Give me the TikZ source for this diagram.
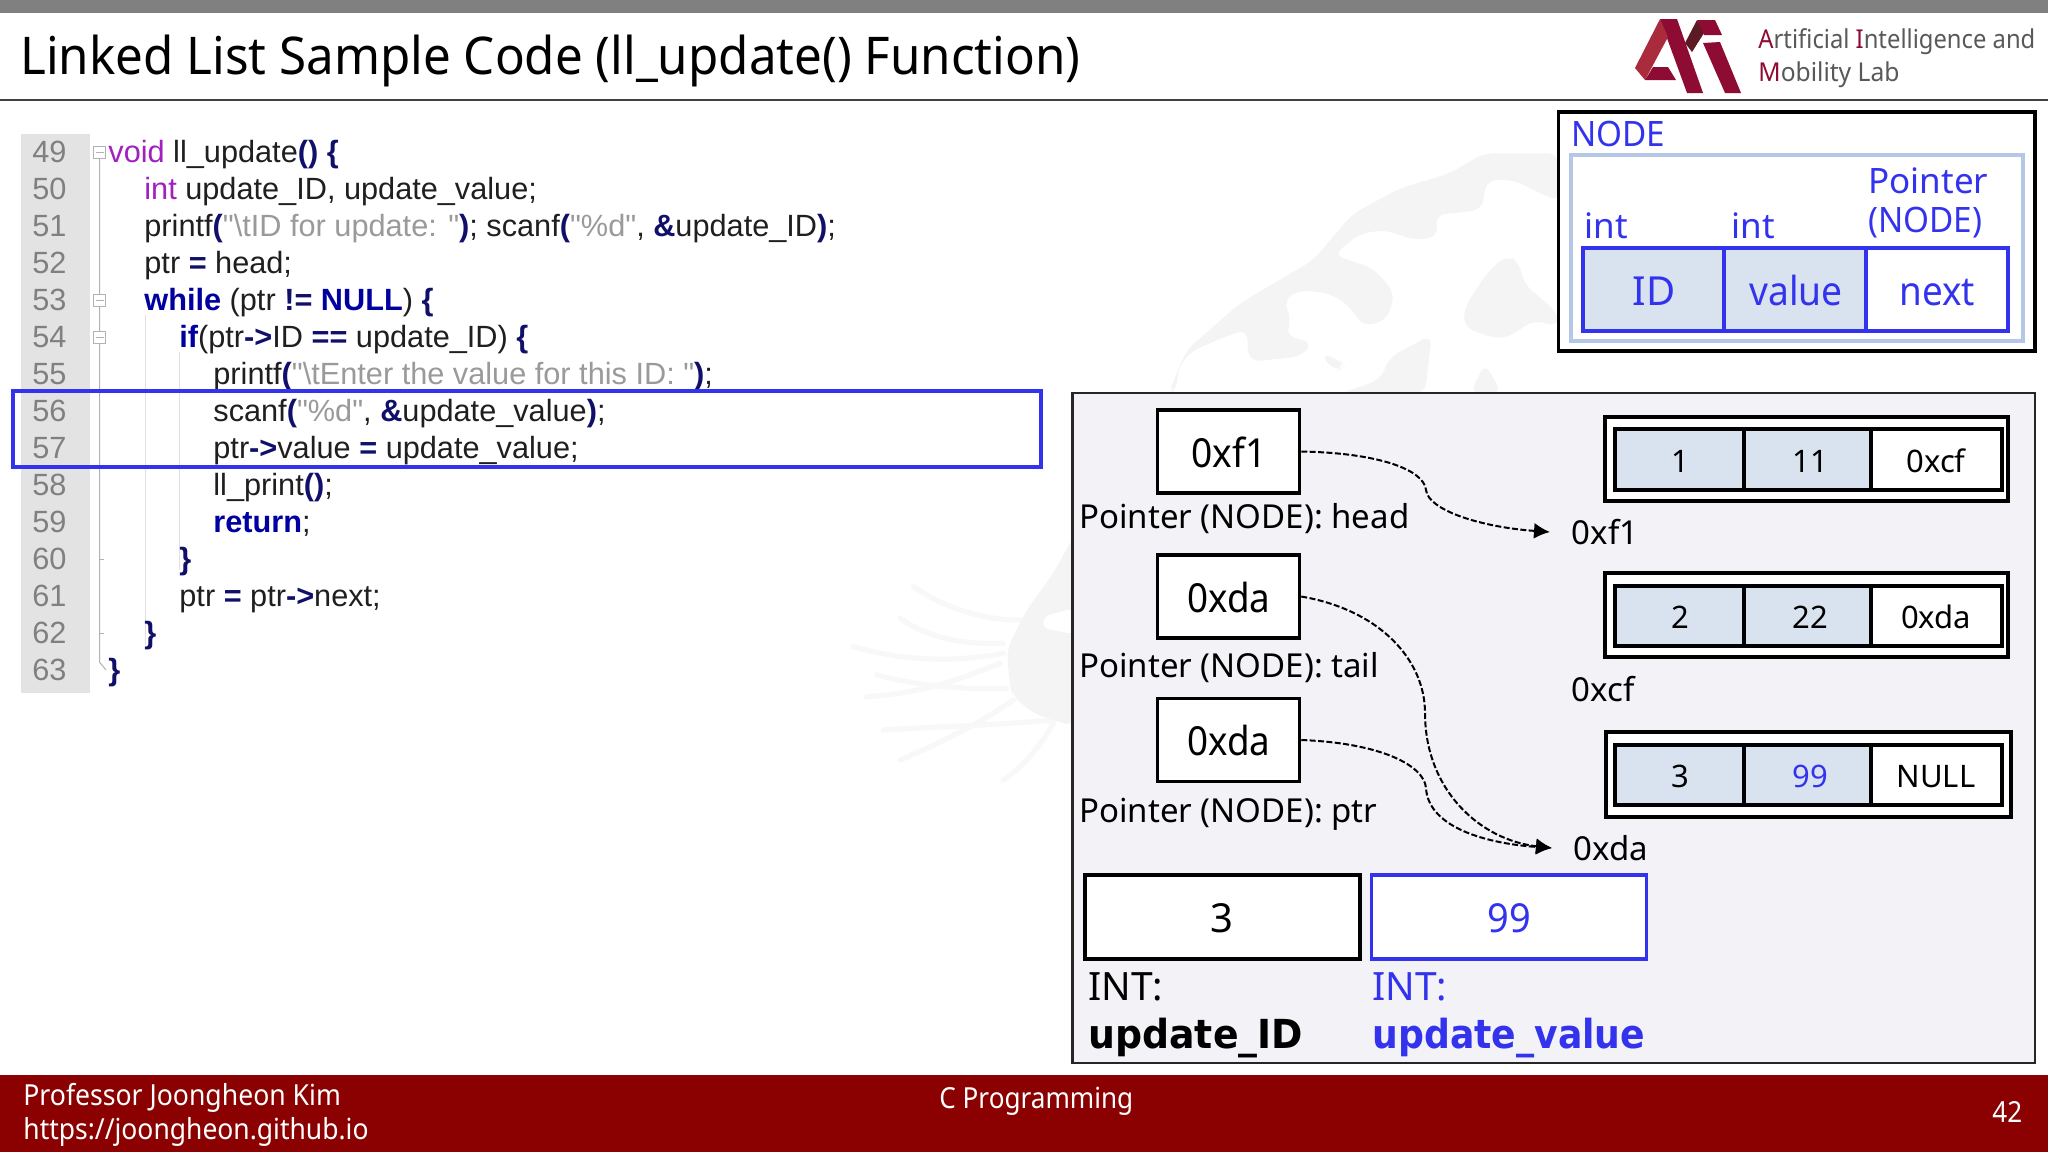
\documentclass[tikz,border=0pt]{standalone}
\usepackage{fontspec}
\setmainfont{Noto Sans}
\newfontfamily\codefont{Liberation Sans}
\newfontfamily\boldfont{DejaVu Sans}
\usetikzlibrary{arrows.meta}
\definecolor{blu}{HTML}{3333EE}
\definecolor{lb}{HTML}{D9E3F0}
\definecolor{lbb}{HTML}{B4C7E7}
\definecolor{pan}{HTML}{F2F2F7}
\definecolor{crim}{HTML}{8B0000}
\definecolor{kw}{HTML}{0000A0}
\definecolor{pur}{HTML}{A020C0}
\definecolor{dk}{HTML}{10106A}
\definecolor{str}{HTML}{9A9A9A}
\definecolor{lgA}{HTML}{A92B3C}
\definecolor{lgB}{HTML}{8E0B33}
\definecolor{lgC}{HTML}{5C1A24}
\definecolor{lgT}{HTML}{595959}
\definecolor{wmk}{HTML}{F4F4F5}
\definecolor{wml}{HTML}{F8F8F8}
\tikzset{
  x=0.5pt,y=-0.5pt,
  txt/.style={anchor=base west,inner sep=0pt,font=\fontsize{#1}{#1}\selectfont},
  ctext/.style={anchor=base,inner sep=0pt,font=\fontsize{#1}{#1}\selectfont},
  code/.style={anchor=base west,inner sep=0pt,font=\codefont\fontsize{15.35}{17}\selectfont,text=black!88},
  lnum/.style={anchor=base west,inner sep=0pt,font=\codefont\fontsize{15.35}{17}\selectfont,text=black!50},
  boxk/.style={draw=black,line width=1.75pt,fill=white},
  fld/.style={draw=black,line width=1.6pt},
  ptr/.style={draw=black,line width=1pt,dash pattern=on 3pt off 1.2pt,-{Latex[length=8pt,width=8pt]}},
  guide/.style={draw=black!30,line width=0.5pt},
  addr/.style={anchor=west,inner sep=0pt,inner xsep=10.7pt,font=\fontsize{16.5}{16.5}\selectfont},
  foot/.style={anchor=base west,inner sep=0pt,text=white,font=\fontsize{14.5}{15}\selectfont},
  wm/.style={fill=wmk,draw=none,rounded corners=5pt},
  wmb/.style={draw=wml,line width=2.6pt,line cap=round},
}
\newcommand{\sq}[1]{\addfontfeature{FakeStretch=#1}}
\newcommand{\kwd}[1]{\textbf{\textcolor{kw}{#1}}}
\newcommand{\sym}[1]{\textbf{\textcolor{dk}{#1}}}
\newcommand{\st}[1]{\textcolor{str}{#1}}
\newcommand{\ty}[1]{\textcolor{pur}{#1}}
\begin{document}
\begin{tikzpicture}
\useasboundingbox (0,0) rectangle (2048,1152);
\fill[white] (0,0) rectangle (2048,1152);
% watermark, upper part
\begin{scope}[shift={(1100,130)},x=0.16667pt,y=-0.16667pt]
\fill[wm] (205,790) -- (260,660) -- (420,520) -- (640,390) -- (760,250) -- (900,175) -- (1050,130) -- (1150,70) -- (1375,70) -- (1375,215) -- (1240,150) -- (1160,150) -- (1145,240) -- (1005,255) -- (1015,320) -- (940,330) -- (860,300) -- (780,310) -- (700,375) -- (820,415) -- (885,490) -- (860,570) -- (790,590) -- (750,530) -- (690,490) -- (600,480) -- (550,510) -- (575,570) -- (555,615) -- (640,640) -- (600,680) -- (450,695) -- (440,640) -- (445,600) -- (400,610) -- (280,660) -- (240,700) -- (225,790) -- cycle;
\fill[wm] (1220,375) -- (1260,400) -- (1270,460) -- (1375,550) -- (1375,590) -- (1300,570) -- (1230,620) -- (1180,625) -- (1090,590) -- (1095,530) -- (1160,430) -- cycle;
\fill[wm] (995,615) -- (975,790) -- (720,790) -- (840,750) -- (870,680) -- cycle;
\fill[wm] (1155,700) -- (1205,790) -- (1110,790) -- cycle;
\fill[wm] (660,670) -- (720,690) -- (735,710) -- (705,725) -- cycle;
\end{scope}
% watermark, lower part
\begin{scope}[shift={(800,480)},x=0.16667pt,y=-0.16667pt]
\draw[wmb] (340,320) .. controls (430,380) and (540,420) .. (660,420);
\draw[wmb] (300,415) .. controls (380,470) and (480,495) .. (610,490);
\draw[wmb] (160,500) .. controls (300,540) and (450,550) .. (610,520);
\draw[wmb] (230,585) .. controls (350,615) and (480,630) .. (620,625);
\draw[wmb] (200,650) .. controls (350,640) and (450,610) .. (600,550);
\draw[wmb] (250,750) .. controls (400,740) and (600,735) .. (760,720);
\draw[wmb] (300,840) .. controls (420,790) and (540,730) .. (640,660);
\draw[wmb] (610,900) .. controls (670,860) and (720,800) .. (760,730);
\fill[wm] (820,170) -- (760,280) -- (680,390) -- (620,510) -- (630,620) -- (640,650) -- (700,700) -- (820,740) -- cycle;
\fill[white,rounded corners=3pt] (820,385) -- (730,410) -- (730,445) -- (820,462) -- cycle;
\end{scope}
% header
\fill[black!50] (0,0) rectangle (2048,13);
\draw[black!75,line width=0.7pt] (0,100) -- (2048,100);
\node[txt=26] (title) at (20,74) {\sq{0.948}Linked List Sample Code (ll\_update() Function)};
% logo
\fill[lgB] (1660,19) -- (1677,19) -- (1703,93) -- (1687,93) -- cycle;
\fill[lgA] (1660,19) -- (1635,68) -- (1645,80) -- (1668,37) -- cycle;
\fill[lgB] (1645,80) -- (1676,80) -- (1668,67) -- (1653,67) -- cycle;
\fill[lgC] (1685,43) -- (1697,20) -- (1704,33) -- (1692,52) -- cycle;
\fill[lgB] (1697,20) -- (1715,20) -- (1722,35) -- (1704,35) -- cycle;
\fill[lgB] (1703,43) -- (1720,42) -- (1741,93) -- (1725,93) -- cycle;
\node[txt=13,text=lgT] (logoa) at (1758,48) {\sq{0.915}\textcolor{lgB}{A}rtificial \textcolor{lgB}{I}ntelligence and};
\node[txt=13,text=lgT] (logob) at (1758,81) {\sq{0.947}\textcolor{lgB}{M}obility Lab};
% code gutter
\fill[black!11] (21,134) rectangle (90,693);
\draw[guide] (99.5,158) -- (99.5,662) -- (106,670);
\draw[guide,black!12] (145,315) -- (145,645);
\draw[guide,black!12] (179,352) -- (179,570);
\foreach \yy in {146.5,294,331.5} \draw[guide,fill=white] (93.5,\yy) rectangle (105.5,\yy+12);
\foreach \yy in {146.5,294,331.5} \draw[guide] (95.5,\yy+6) -- (103.5,\yy+6);
\foreach \yy in {559,633} \draw[guide] (99.5,\yy) -- (104,\yy);
% code
\foreach \n [count=\i from 0] in {49,...,63} \node[lnum] (n\n) at (32,{162+37.05*\i}) {\n};
\node[code] (c49) at (108,162.0) {\ty{void} ll\_update\sym{() \{}};
\node[code] (c50) at (144,199.0) {\ty{int} update\_ID, update\_value;};
\node[code] (c51) at (144,236.1) {printf\sym{(}\st{"\textbackslash tID for update: "}\sym{)}; scanf\sym{(}\st{"\%d"}, \sym{\&}update\_ID\sym{)};};
\node[code] (c52) at (144,273.1) {ptr \sym{=} head;};
\node[code] (c53) at (144,310.2) {\kwd{while} (ptr \sym{!=} \kwd{NULL}) \sym{\{}};
\node[code] (c54) at (179,347.2) {\kwd{if}(ptr\sym{->}ID \sym{==} update\_ID) \sym{\{}};
\node[code] (c55) at (213,384.3) {printf\sym{(}\st{"\textbackslash tEnter the value for this ID: "}\sym{)};};
\node[code] (c56) at (213,421.3) {scanf\sym{(}\st{"\%d"}, \sym{\&}update\_value\sym{)};};
\node[code] (c57) at (213,458.4) {ptr\sym{->}value \sym{=} update\_value;};
\node[code] (c58) at (213,495.4) {ll\_print\sym{()};};
\node[code] (c59) at (213,532.5) {\kwd{return};};
\node[code] (c60) at (179,569.5) {\sym{\}}};
\node[code] (c61) at (179,606.6) {ptr \sym{=} ptr\sym{->}next;};
\node[code] (c62) at (144,643.6) {\sym{\}}};
\node[code] (c63) at (108,680.7) {\sym{\}}};
\draw[draw=blu,line width=1.75pt] (13,391) rectangle (1041,467);
% NODE legend
\draw[draw=black,line width=1.6pt,fill=white] (1558.5,112) rectangle (2035,351);
\node[txt=17.5,text=blu] (nodet) at (1571,146) {\sq{0.95}NODE};
\draw[draw=lbb,line width=1.6pt] (1571,155) rectangle (2023,341);
\node[txt=17.5,text=blu] (inta) at (1584,238) {int};
\node[txt=17.5,text=blu] (intb) at (1731,238) {int};
\node[txt=17.5,text=blu] (pa) at (1868,193) {Pointer};
\node[txt=17.5,text=blu] (pb) at (1868,232) {\sq{0.95}(NODE)};
\path[fill=lb] (1583,248) rectangle (1866,331);
\draw[draw=blu,line width=1.75pt] (1583,248) rectangle (2008,331);
\draw[draw=blu,line width=1.75pt] (1724,248) -- (1724,331) (1866,248) -- (1866,331);
\node[ctext=20,text=blu] (fid) at (1654,305) {ID};
\node[ctext=20,text=blu] (fval) at (1796,305) {\sq{0.93}value};
\node[ctext=20,text=blu] (fnext) at (1937,305) {\sq{0.92}next};
% panel
\draw[draw=black!85,line width=1.1pt,fill=pan] (1072.5,393) rectangle (2035,1063);
\node[boxk,minimum width=71pt,minimum height=41.5pt,inner sep=0pt] (phead) at (1228.5,451.5) {};
\node[boxk,minimum width=71pt,minimum height=41.5pt,inner sep=0pt] (ptail) at (1228.5,596.5) {};
\node[boxk,minimum width=71pt,minimum height=41.5pt,inner sep=0pt] (pptr) at (1228.5,740) {};
\node[ctext=20] (vhead) at (1229,467) {\sq{0.93}0xf1};
\node[ctext=20] (vtail) at (1229,612) {\sq{0.92}0xda};
\node[ctext=20] (vptr) at (1229,755) {\sq{0.92}0xda};
\node[txt=16.5] (lhead) at (1079,528) {Pointer (NODE): head};
\node[txt=16.5] (ltail) at (1079,677) {Pointer (NODE): tail};
\node[txt=16.5] (lptr) at (1079,822) {Pointer (NODE): ptr};
\node[addr] (af1) at (1550,532) {0xf1};
\node[addr] (acf) at (1550,689) {0xcf};
\node[addr] (ada) at (1552,848) {0xda};
% list rows
\foreach \rn/\xa/\xb/\ya/\yb/\ia/\ib/\tb/\va/\vb/\vc/\vcol in {1/1605/2008/417/501/429/490/472/1/11/0xcf/black,2/1605/2008/573/657/586/646/628/2/22/0xda/black,3/1606/2011/732/817/745/805/787/3/99/NULL/blu}{
  \draw[draw=black,line width=1.6pt,fill=white] (\xa,\ya) rectangle (\xb,\yb);
  \fill[lb] (1615,\ia) rectangle (1871,\ib);
  \draw[fld] (1615,\ia) rectangle (2002,\ib);
  \draw[fld] (1744,\ia) -- (1744,\ib) (1871,\ia) -- (1871,\ib);
  \node[ctext=15.5] (ra\rn) at (1680,\tb) {\va};
  \node[ctext=15.5,text=\vcol] (rb\rn) at (1810,\tb) {\vb};
  \node[ctext=15.5] (rc\rn) at (1936,\tb) {\vc};
}
% connectors
\draw[ptr] (phead.east) .. controls (1380,453) and (1424,470) .. (1426,490) .. controls (1428,510) and (1480,527) .. (af1.west);
\draw[ptr] (ptail.east) .. controls (1380,610) and (1425,660) .. (1425,713) .. controls (1425,790) and (1480,840) .. (ada.west);
\draw[ptr] (pptr.east) .. controls (1380,743) and (1424,765) .. (1426,788) .. controls (1428,825) and (1480,843) .. (ada.west);
% bottom boxes
\node[boxk,minimum width=137.5pt,minimum height=42pt,inner sep=0pt] (bid) at (1222.5,917) {};
\node[draw=blu,fill=white,line width=1.75pt,minimum width=137.5pt,minimum height=42pt,inner sep=0pt] (bval) at (1509,917) {};
\node[ctext=20] (tid) at (1222,932) {3};
\node[ctext=20,text=blu] (tval) at (1509,932) {\sq{0.95}99};
\node[txt=19.5] (inta2) at (1088,1000) {INT:};
\node[txt=19.5,text=blu] (intb2) at (1372,1000) {INT:};
\node[anchor=base west,inner sep=0pt,font=\boldfont\bfseries\fontsize{20}{20}\selectfont] (uid) at (1088,1048) {\sq{0.945}update\_ID};
\node[anchor=base west,inner sep=0pt,text=blu,font=\boldfont\bfseries\fontsize{20}{20}\selectfont] (uval) at (1372,1048) {\sq{0.905}update\_value};
% footer
\fill[crim] (0,1075) rectangle (2048,1152);
\node[foot] (fa) at (23,1105) {\sq{0.917}Professor Joongheon Kim};
\node[foot] (fb) at (23,1139) {\sq{0.913}https://joongheon.github.io};
\node[foot] (fc) at (939,1108) {\sq{0.9}C Programming};
\node[foot] (fd) at (1992,1122) {\sq{0.9}42};
\end{tikzpicture}
\end{document}
